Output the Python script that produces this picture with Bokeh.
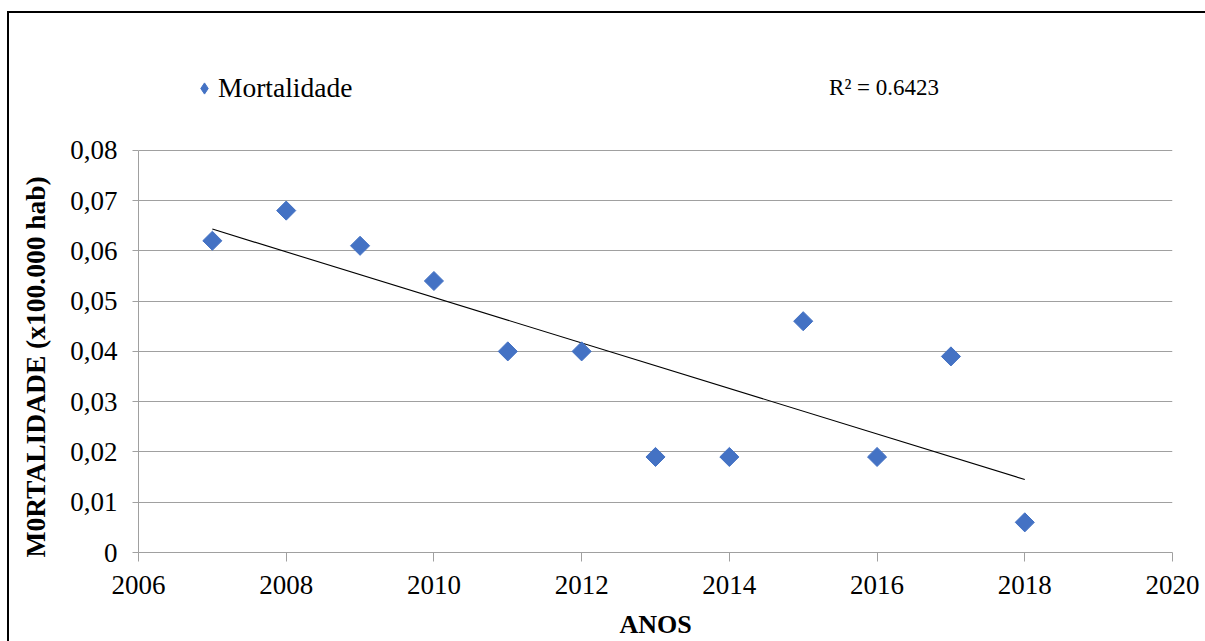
import numpy as np
from bokeh.plotting import figure
from bokeh.models import (ColumnDataSource, Legend, LegendItem, Label, Title,
                          FixedTicker, CustomJSTickFormatter, Range1d)
from bokeh.embed import file_html
from bokeh.resources import INLINE

anos = [2007, 2008, 2009, 2010, 2011, 2012, 2013, 2014, 2015, 2016, 2017, 2018]
mortalidade = [0.062, 0.068, 0.061, 0.054, 0.040, 0.040, 0.019, 0.019, 0.046, 0.019, 0.039, 0.006]
x_ticks = [2006, 2008, 2010, 2012, 2014, 2016, 2018, 2020]
y_ticks = [0, 0.01, 0.02, 0.03, 0.04, 0.05, 0.06, 0.07, 0.08]
r2_text = "R² = 0.6423"
serie = "Mortalidade"
x_label = "ANOS"
y_label = "M0RTALIDADE (x100.000 hab)"

FONT = "Liberation Serif"
BLUE = "#4472C4"
Y_AXIS_MAX = 0.08
# frame extends above the axis so the legend and R² text sit inside it
Y_FRAME_TOP = 0.1072

p = figure(width=1205, height=641, output_backend="svg", toolbar_location=None,
           x_range=Range1d(2006, 2020), y_range=Range1d(0, Y_FRAME_TOP),
           min_border_left=138, min_border_right=33, min_border_top=13, min_border_bottom=88)
p.margin = 0
# outer chart border (left and top edges), drawn as inset shadows of the host element
p.stylesheets = [":host { box-shadow: inset 7px 11px 0 0 white, inset 9px 13px 0 0 black; "
                 "background-color: white; }"]
p.background_fill_color = "white"
p.border_fill_alpha = 0
p.outline_line_color = None

# trend line (least squares from data)
coef = np.polyfit(anos, mortalidade, 1)
tx = [anos[0], anos[-1]]
ty = [float(np.polyval(coef, v)) for v in tx]
p.line(tx, ty, line_color="black", line_width=1.1)

# legend symbol renderer (tiny, hidden under the first data marker)
r_leg = p.scatter(x=anos[:1], y=mortalidade[:1], marker="diamond", size=1,
                  fill_color=BLUE, line_color=BLUE)

src = ColumnDataSource(dict(x=anos, y=mortalidade))
r = p.scatter("x", "y", source=src, marker="square", angle=np.pi / 4, size=13.5,
              fill_color=BLUE, line_color=BLUE)

# axes
p.xaxis.ticker = FixedTicker(ticks=x_ticks)
p.yaxis.ticker = FixedTicker(ticks=y_ticks)
p.yaxis.bounds = (0, Y_AXIS_MAX)
p.yaxis.formatter = CustomJSTickFormatter(code="""
    if (Math.abs(tick) < 1e-9) { return '0'; }
    return tick.toFixed(2).replace('.', ',');
""")
for ax in (p.xaxis[0], p.yaxis[0]):
    ax.axis_line_color = "#a0a0a0"
    ax.major_tick_line_color = "#a0a0a0"
    ax.minor_tick_line_color = None
    ax.major_tick_in = 0
    ax.major_label_text_font = FONT
    ax.major_label_text_font_size = "27px"
    ax.major_label_text_color = "black"
    ax.axis_label_text_font = FONT
    ax.axis_label_text_font_style = "bold"
    ax.axis_label_text_font_size = "26px"
    ax.axis_label_text_color = "black"
p.xaxis.major_tick_out = 9
p.yaxis.major_tick_out = 6
p.xaxis.major_label_standoff = 14
p.yaxis.major_label_standoff = 15
p.xaxis.axis_label = x_label
p.xaxis.axis_label_standoff = 13

p.xgrid.grid_line_color = None
p.ygrid.grid_line_color = "#a0a0a0"
p.ygrid.grid_line_width = 1

# y axis title placed in the left panel (aligned to the axis bottom)
p.add_layout(Title(text=y_label, align="left", offset=-5, standoff=34,
                   text_font=FONT, text_font_style="bold", text_font_size="27.5px",
                   text_color="black"), "left")

# legend
legend = Legend(items=[LegendItem(label=serie, renderers=[r_leg])],
                location=(52, 448), orientation="horizontal",
                background_fill_alpha=0, border_line_color=None,
                label_text_font=FONT, label_text_font_size="27.5px",
                label_text_color="black",
                glyph_width=28, glyph_height=30, padding=0, margin=0,
                label_standoff=0, spacing=0)
p.add_layout(legend, "center")

# R^2 label
p.add_layout(Label(x=2015.35, y=0.0925, text=r2_text, text_font=FONT,
                   text_font_size="23px", text_color="black",
                   text_baseline="middle", text_align="left"))

open("out.html", "w").write(file_html(p, INLINE))
